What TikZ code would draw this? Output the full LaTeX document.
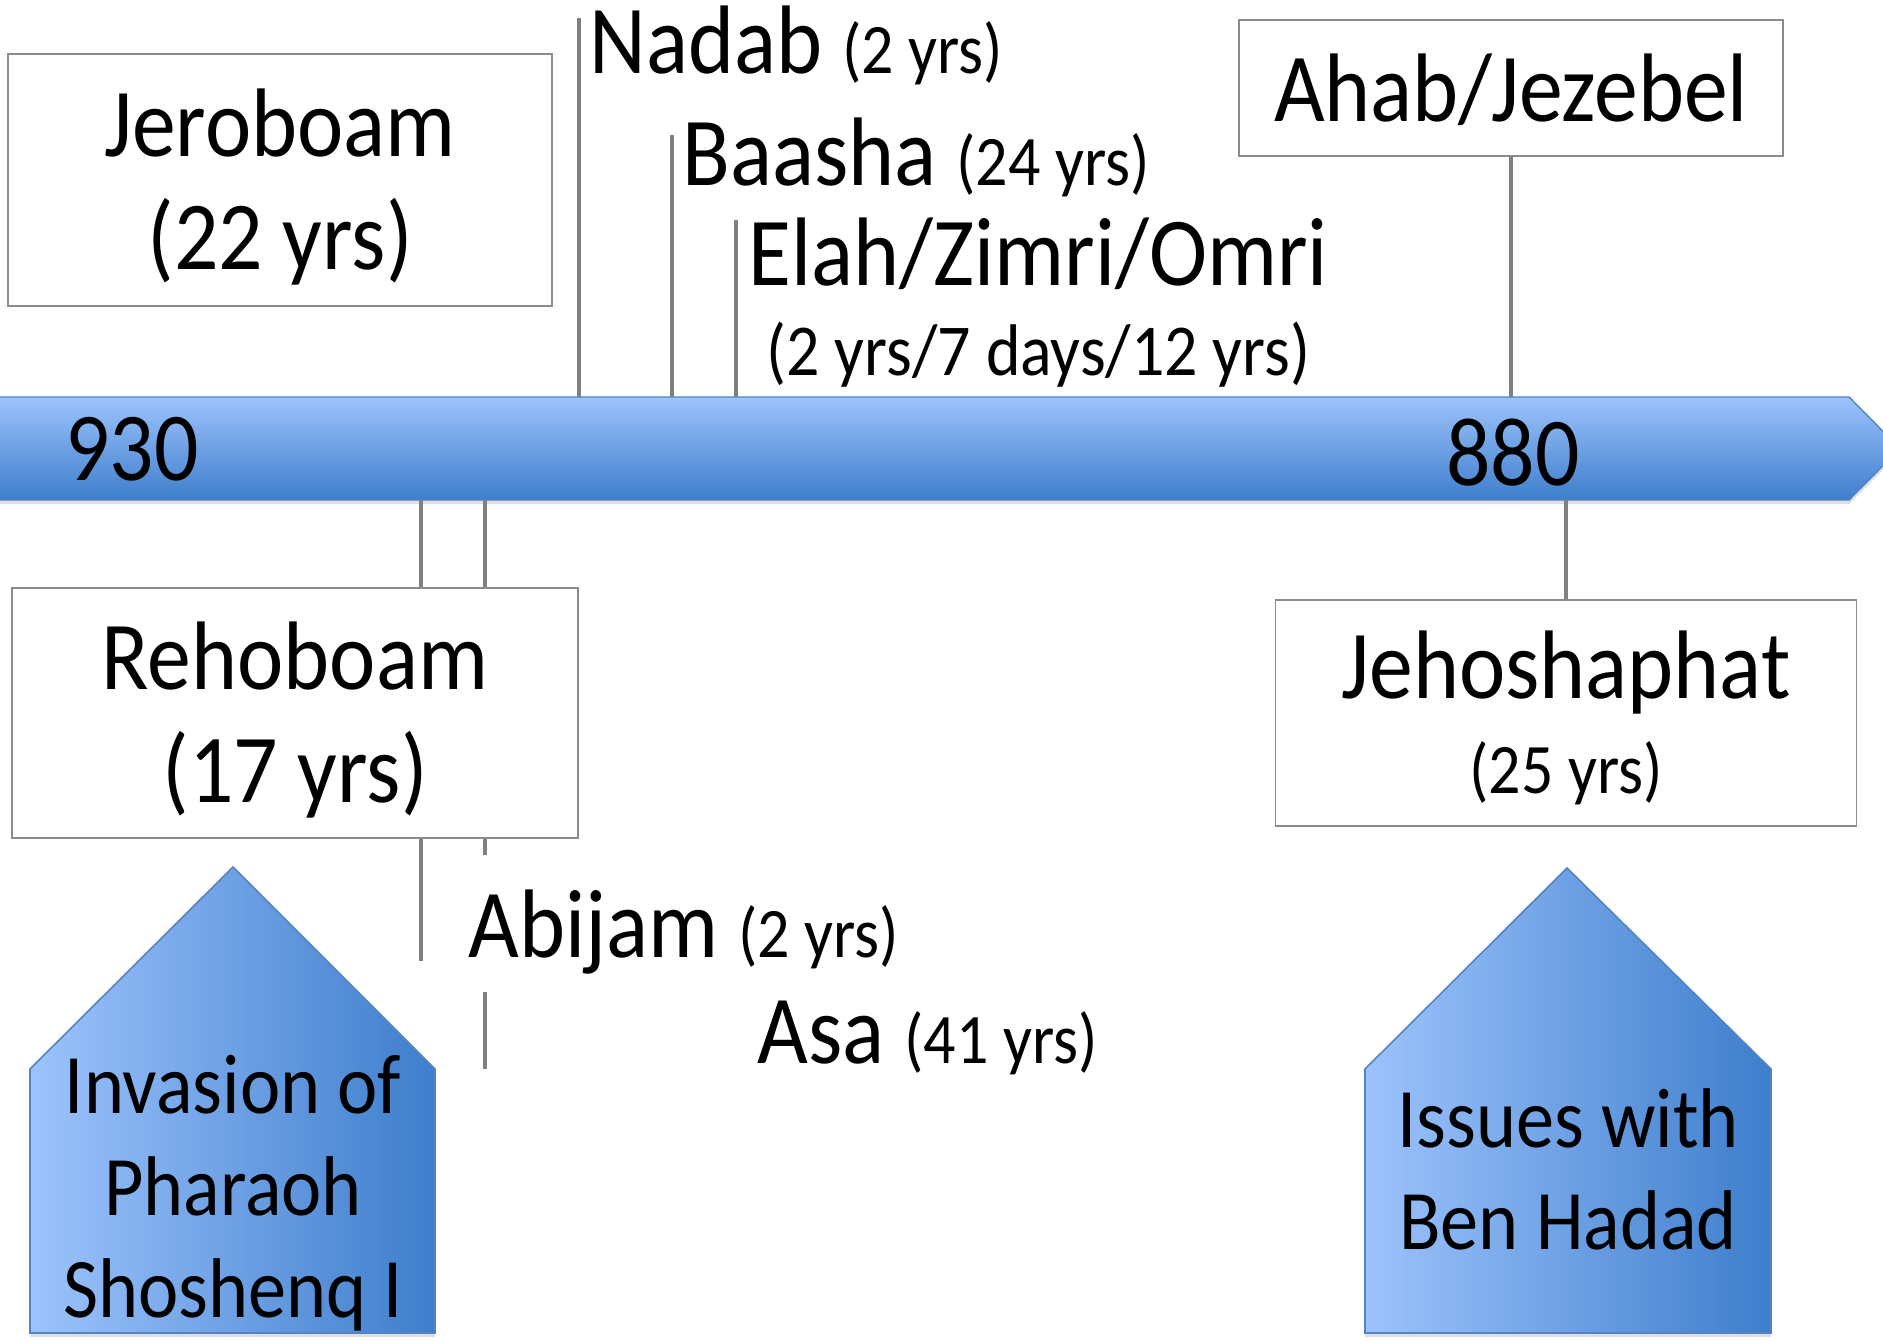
\documentclass[tikz,border=0pt]{standalone}
\usepackage{fontspec}
\setmainfont{Carlito}[FakeStretch=0.9]
\usetikzlibrary{shadows}

\definecolor{barlight}{RGB}{157,195,252}
\definecolor{bardark}{RGB}{62,126,204}
\definecolor{barline}{RGB}{84,130,196}
\definecolor{linkgray}{RGB}{128,128,128}
\definecolor{boxgray}{RGB}{140,140,140}

\newcommand{\namesize}{\fontsize{27.7pt}{32.4pt}\selectfont}
\newcommand{\yrsize}{\fontsize{20.2pt}{22pt}\selectfont}
\newcommand{\housesize}{\fontsize{24.1pt}{29pt}\selectfont}
\newcommand{\tstrut}{\rule{0pt}{0.86cm}}
\newcommand{\bstrut}{\rule[-0.2cm]{0pt}{0.2cm}}

\begin{document}
\begin{tikzpicture}[x=0.01cm, y=-0.01cm]
    % Define styles
    \tikzset{
        king/.style={rectangle, draw=boxgray, line width=0.45pt, fill=white, align=center, font=\namesize, inner sep=0pt},
        reign/.style={anchor=base west, inner sep=0pt, font=\namesize},
        connector/.style={draw=linkgray, line width=1.15pt},
        timeband/.style={top color=barlight, bottom color=bardark, draw=barline, line width=0.4pt,
            drop shadow={shadow xshift=0pt, shadow yshift=-1.2pt, opacity=0.25}},
        house/.style={left color=barlight, right color=bardark, draw=barline, line width=0.45pt,
            drop shadow={shadow xshift=0pt, shadow yshift=-1.2pt, opacity=0.25}},
        housetext/.style={align=center, font=\housesize, inner sep=0pt},
    }
    \useasboundingbox (0,0) rectangle (1883,1340);
    \clip (0,0) rectangle (1883,1340);

    % Time band
    \draw[timeband] (-20,397) -- (1849,397) -- (1900,448.5) -- (1849,500) -- (-20,500) -- cycle;
    \coordinate (bandtop) at (0,397);
    \coordinate (bandbot) at (0,500);
    \node[font=\namesize] (y930) at (132,449) {930};
    \node[font=\namesize] (y880) at (1513,453) {880};

    % Israel (above)
    \coordinate (nadabtop) at (579,18);
    \coordinate (baashatop) at (672,135);
    \coordinate (elahtop) at (736,220);
    \draw[connector] (nadabtop) -- (nadabtop |- bandtop);
    \draw[connector] (baashatop) -- (baashatop |- bandtop);
    \draw[connector] (elahtop) -- (elahtop |- bandtop);

    \node[king, minimum width=5.44cm, minimum height=2.52cm] (jeroboam) at (280,180) {\tstrut Jeroboam\\(22 yrs)\bstrut};
    \node[reign] (nadab) at (589,74) {Nadab {\yrsize(2 yrs)}};
    \node[reign] (baasha) at (682,186) {Baasha {\yrsize(24 yrs)}};
    \node[reign] (elah) at (748,286) {Elah/Zimri/Omri};
    \node[reign, font=\fontsize{20.8pt}{22pt}\selectfont] (elahyrs) at (766,376) {(2 yrs/7 days/12 yrs)};

    \node[king, minimum width=5.44cm, minimum height=1.36cm] (ahab) at (1511,88) {\tstrut Ahab/Jezebel\bstrut};
    \draw[connector] (ahab) -- (ahab |- bandtop);

    % Judah (below)
    \coordinate (rehoend) at (421,961);
    \coordinate (asaend) at (485,1069);
    \draw[connector] (rehoend |- bandbot) -- (rehoend);
    \draw[connector] (asaend |- bandbot) -- (asaend);

    \node[king, minimum width=5.66cm, minimum height=2.5cm] (rehoboam) at (295,713) {\tstrut Rehoboam\\(17 yrs)\bstrut};
    \node[reign, fill=white, text height=1.02cm, text depth=0.35cm] (abijam) at (468,957) {Abijam {\yrsize(2 yrs)}};
    \node[reign] (asa) at (757,1063) {Asa {\yrsize(41 yrs)}};

    \node[king, minimum width=5.81cm, minimum height=2.26cm] (jehoshaphat) at (1566,713) {\tstrut Jehoshaphat\\[-0.19cm]{\yrsize(25 yrs)}\bstrut};
    \draw[connector] (jehoshaphat) -- (jehoshaphat |- bandbot);

    % Events
    \draw[house] (30,1069) -- (233,867) -- (435,1069) -- (435,1333) -- (30,1333) -- cycle;
    \node[housetext] (invasion) at (233,1182) {\tstrut Invasion of\\Pharaoh\\Shoshenq I\bstrut};

    \draw[house] (1365,1069) -- (1567,868) -- (1771,1069) -- (1771,1333) -- (1365,1333) -- cycle;
    \node[housetext] (issues) at (1568,1165) {\tstrut Issues with\\Ben Hadad\bstrut};
\end{tikzpicture}
\end{document}
